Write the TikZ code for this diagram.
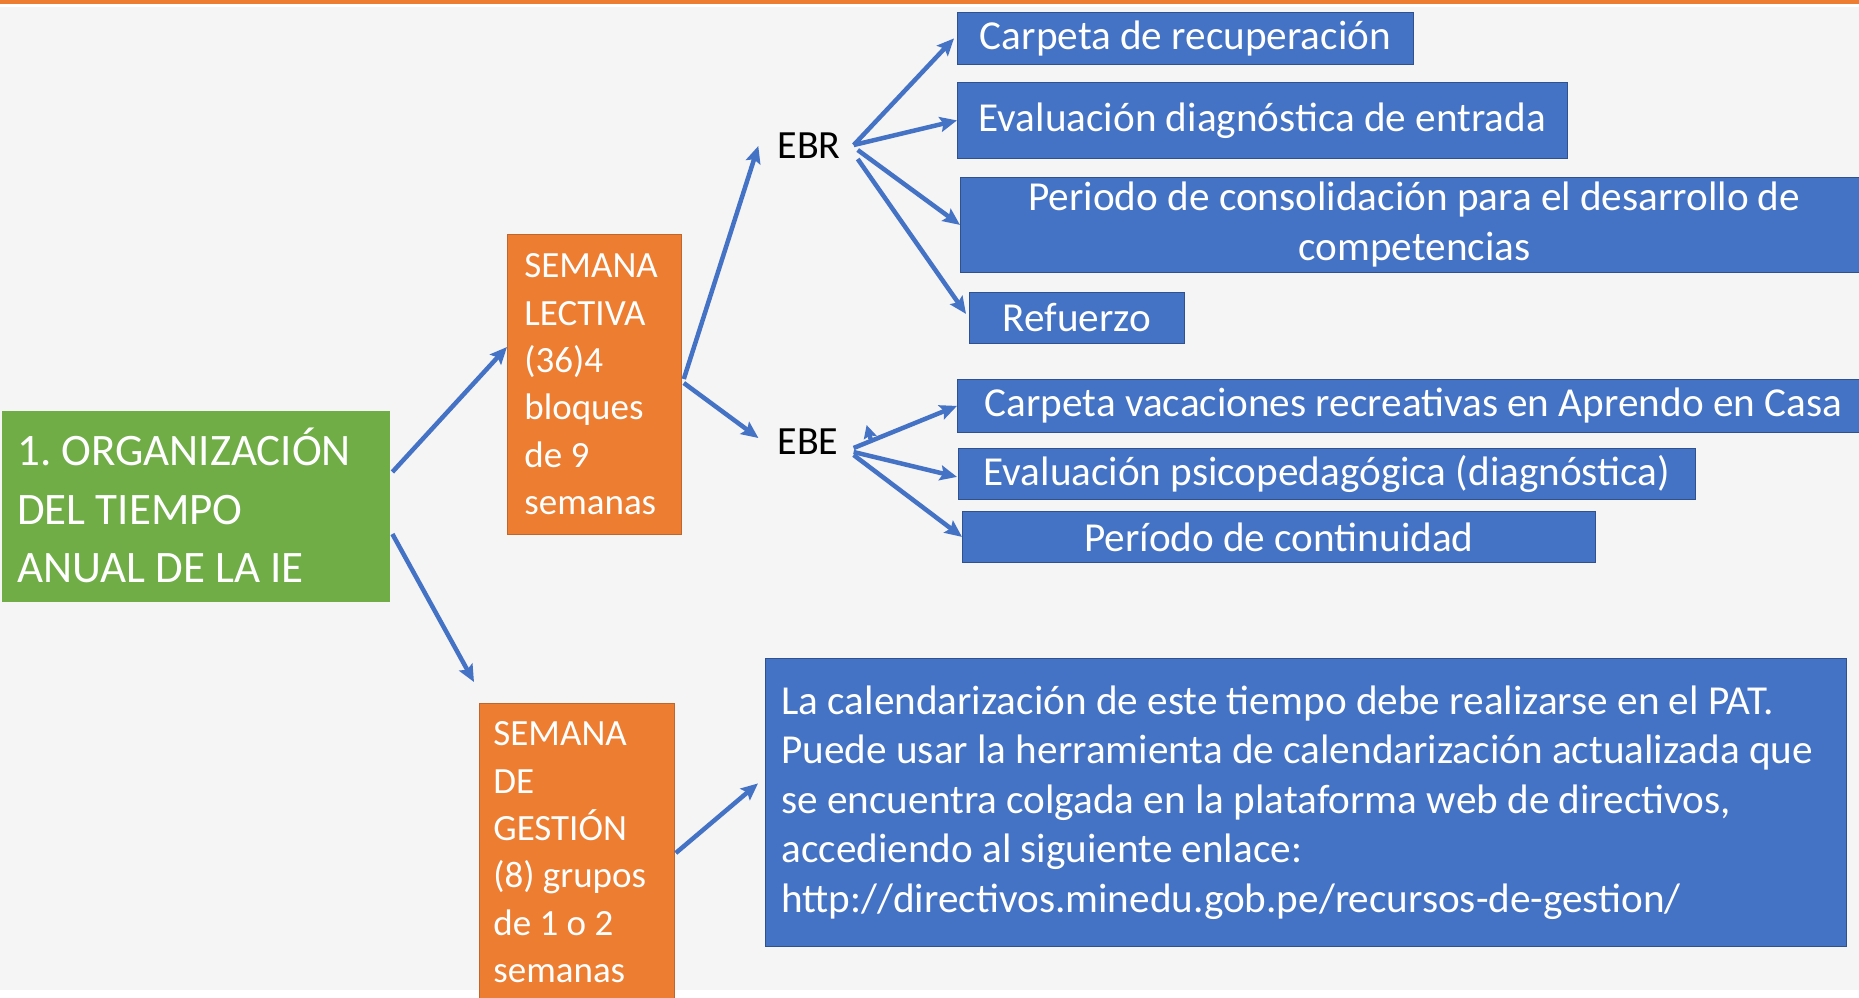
\documentclass[tikz,border=0pt]{standalone}
\usepackage{fontspec}
\setmainfont{Carlito}
\usetikzlibrary{arrows.meta,calc}
\definecolor{bg}{HTML}{F5F5F5}
\definecolor{ora}{HTML}{ED7D31}
\definecolor{grn}{HTML}{70AD47}
\definecolor{blu}{HTML}{4472C4}
\definecolor{bluedge}{HTML}{2F528F}
\definecolor{oraedge}{HTML}{C0662A}
\begin{document}
\begin{tikzpicture}[x=1pt,y=-1pt,
 bluebox/.style={draw=bluedge, line width=0.8pt, fill=blu, text=white, font=\fontsize{41.2}{50}\selectfont, inner sep=0pt, align=center, anchor=north west},
 orabox/.style={draw=oraedge, line width=0.8pt, fill=ora, text=white, font=\fontsize{37}{47.4}\selectfont, align=flush left, inner ysep=0pt, anchor=north west},
 conn/.style={draw=blu, line width=4.5pt, -{Stealth[length=17pt,width=15pt,inset=3pt]}},
 lbl/.style={font=\fontsize{40}{48}\selectfont, inner sep=0pt, text=black}
]
\useasboundingbox (0,0) rectangle (1859,997);
\clip (0,0) rectangle (1859,997);
\fill[white] (0,0) rectangle (1859,997);
\fill[bg] (0,7) rectangle (1859,990);
\fill[ora] (0,0) rectangle (1859,4);

% main nodes
\node[anchor=north west, fill=grn, text=white, minimum width=388pt, minimum height=189pt,
      text width=358pt, inner xsep=15pt, inner ysep=0pt, align=flush left,
      font=\fontsize{45}{58.5}\selectfont] (org) at (2,411)
      {1.\ ORGANIZACIÓN\\DEL TIEMPO\\ANUAL DE LA IE};
\fill[grn] (org.south west) rectangle ([yshift=-2pt]org.south east);
\node[orabox, text width=140pt, inner xsep=17pt, minimum height=300pt] (lect) at (507,234)
      {SEMANA\\LECTIVA\\(36)4\\bloques\\de 9\\semanas};
\node[orabox, text width=167pt, inner xsep=14pt, minimum height=298pt] (gest) at (479,703)
      {SEMANA\\DE\\GESTIÓN\\(8) grupos\\de 1 o 2\\semanas};

\node[lbl] (ebr) at (809,146) {EBR};
\node[lbl] (ebe) at (808,442) {EBE};

\node[bluebox, minimum width=456pt, minimum height=52pt] (rec) at (957,12) {Carpeta de recuperación};
\node[bluebox, minimum width=610pt, minimum height=76pt] (evd) at (957,82) {Evaluación diagnóstica de entrada};
\node[bluebox, minimum width=908pt, minimum height=95pt] (per) at (960,177) {Periodo de consolidación para el desarrollo de\\competencias};
\node[bluebox, minimum width=215pt, minimum height=51pt] (ref) at (969,292) {Refuerzo};
\node[bluebox, minimum width=912pt, minimum height=53pt] (vac) at (957,379) {Carpeta vacaciones recreativas en Aprendo en Casa};
\node[bluebox, minimum width=737pt, minimum height=51pt] (psi) at (958,448) {Evaluación psicopedagógica (diagnóstica)};
\node[bluebox, minimum width=633pt, minimum height=51pt] (con) at (962,511) {Período de continuidad};
\node[bluebox, minimum width=1081pt, minimum height=288pt, align=flush left,
      text width=1049pt, inner xsep=16pt,
      font=\fontsize{41.2}{49.5}\selectfont] (cal) at (765,658)
      {La calendarización de este tiempo debe realizarse en el PAT.\\
       Puede usar la herramienta de calendarización actualizada que\\
       se encuentra colgada en la plataforma web de directivos,\\
       accediendo al siguiente enlace:\\
       http://directivos.minedu.gob.pe/recursos-de-gestion/};

% connectors
\draw[conn] ([shift={(2,61)}]org.north east) -- ([shift={(0,113)}]lect.north west);
\draw[conn] ([shift={(2,123)}]org.north east) -- ([shift={(-5,-21)}]gest.north west);
\draw[conn] ([shift={(2,145)}]lect.north east) -- ([shift={(-19,0)}]ebr.west);
\draw[conn] ([shift={(2,149)}]lect.north east) -- ([shift={(-19,-4)}]ebe.west);

\draw[conn] ([shift={(13,-1)}]ebr.east) -- ([shift={(-3,0)}]rec.west);
\draw[conn] ([shift={(13,-1)}]ebr.east) -- (evd.west);
\draw[conn] ([shift={(17,4)}]ebr.east) -- (per.west);
\draw[conn] ([shift={(17,13)}]ebr.east) -- ([shift={(-3,-4)}]ref.west);

\draw[conn] ([shift={(15,6)}]ebe.east) -- (vac.west);
\draw[conn] ([shift={(15,10)}]ebe.east) -- ([shift={(-1,3)}]psi.west);
\draw[conn] ([shift={(15,13)}]ebe.east) -- (con.west);
\coordinate (stray) at ([shift={(32,-3)}]ebe.east);
\draw[conn, -{Stealth[length=13pt,width=13pt,inset=2pt]}] (stray) -- ([shift={(28,-17)}]ebe.east);

\draw[conn] ([shift={(1,150)}]gest.north east) -- ([shift={(-7,-19)}]cal.west);
\end{tikzpicture}
\end{document}
